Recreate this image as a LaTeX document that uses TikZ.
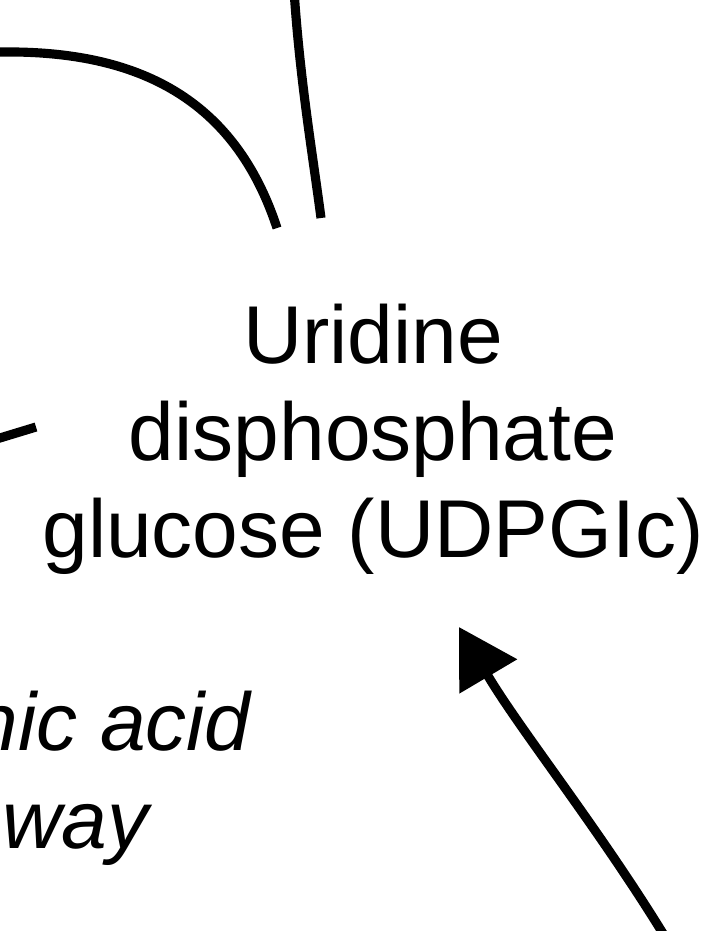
\documentclass[tikz,border=0pt]{standalone}
\usepackage{fontspec}
\setmainfont{Liberation Sans}
\usetikzlibrary{arrows.meta}

\begin{document}
\begin{tikzpicture}[x=0.02cm,y=-0.02cm,
  flux/.style={line width=5.2pt},
  label/.style={inner sep=0pt,font=\fontsize{46.7}{55.2}\selectfont},
  pathlabel/.style={label,font=\fontsize{46.7}{55.2}\selectfont\itshape}]

\useasboundingbox (0,0) rectangle (709,931);

% UDPGlc label (base = last line)
\node[label,align=center,anchor=base] (udpg) at (373,557)
  {Uridine\\disphosphate\\glucose (UDPGIc)};

% Pathway label (cut at left edge)
\node[pathlabel,anchor=base east] (acidtxt) at (251,750) {nic acid};
\node[pathlabel,anchor=base east] (waytxt) at (149,848) {way};

% Curve from upper left
\coordinate (A0) at (-20,52);
\coordinate (A1) at (277,228);
\draw[flux] (A0) -- (0,52) .. controls (140,50) and (235,100) .. (A1);

% Line from top
\coordinate (B0) at (294,-10);
\coordinate (B1) at (321,218);
\draw[flux] (B0) .. controls (300,80) and (312,150) .. (B1);

% Short stub at left
\coordinate (C0) at (-10,441);
\coordinate (C1) at (36,427);
\draw[flux] (C0) -- (C1);

% Arrow into UDPGlc
\coordinate (D0) at (667,940);
\coordinate (D1) at (459,627);
\draw[flux,-{Triangle[length=1.15cm,width=1.3cm]}]
  (D0) .. controls (600,830) and (520,730) .. (D1);

\end{tikzpicture}
\end{document}
